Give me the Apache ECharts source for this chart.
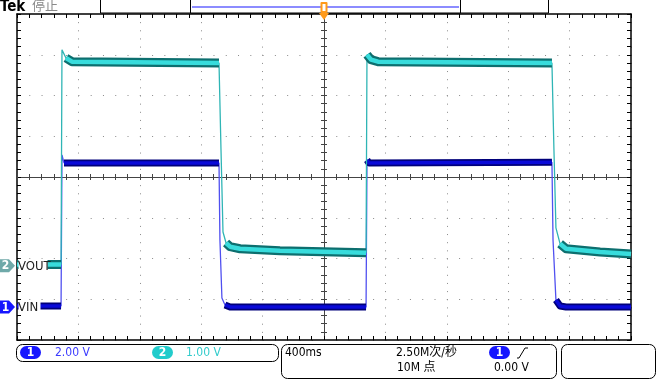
<!DOCTYPE html>
<html><head><meta charset="utf-8">
<script src="https://cdn.jsdelivr.net/npm/echarts@6/dist/echarts.min.js"></script>
<style>html,body{margin:0;padding:0;background:#fff}#c{width:663px;height:381px}</style>
</head><body><div id="c"></div>
<script>
// ---- data (time in s, volts) ----
const vinTime  = [-2.0, -1.713, -1.707, -1.694, -0.684, -0.678, -0.665, -0.645, -0.612, 0.274, 0.280, 0.293, 1.485, 1.492, 1.511, 1.538, 1.577, 2.0];
const vinVolts = [0.05, 0.05, 7.46, 7.07, 7.07, 3.29, 0.44, 0.10, 0.0, 0.0, 7.21, 7.07, 7.10, 3.29, 0.34, 0.05, 0.0, 0.0];
const voutTime  = [-2.0, -1.713, -1.707, -1.681, -1.642, -0.684, -0.671, -0.658, -0.638, -0.612, -0.547, -0.287, 0.274, 0.280, 0.306, 0.352, 1.485, 1.498, 1.511, 1.538, 1.577, 1.798, 2.0];
const voutVolts = [0.03, 0.03, 5.30, 5.10, 5.01, 4.98, 2.85, 0.83, 0.56, 0.47, 0.42, 0.37, 0.32, 5.18, 5.06, 5.01, 4.98, 2.85, 0.93, 0.54, 0.42, 0.34, 0.29];
// scope settings
const timePerDiv = 0.4;          // 400ms
const ch1VoltsPerDiv = 2.0;
const ch2VoltsPerDiv = 1.0;
const ch1GroundDiv = -3.19;      // ground marker position in divisions from centre
const ch2GroundDiv = -2.18;
const hDivs = 10, vDivs = 8;
const statusTexts = { ch1: '2.00 V', ch2: '1.00 V', timebase: '400ms', rate: '2.50M次/秒', points: '10M 点', trigLevel: '0.00 V' };

const pts = (t, v) => t.map((x, i) => [x, v[i]]);
function band(t, v, vpd) {
  const out = [];
  for (let i = 0; i < t.length; i++) {
    out.push([t[i], v[i]]);
    if (i < t.length - 1 && Math.abs(v[i + 1] - v[i]) / vpd > 0.15) out.push([t[i], null]);
  }
  return out;
}

const chart = echarts.init(document.getElementById('c'), null, { renderer: 'canvas' });
const FONT = "'Liberation Sans Narrow','DejaVu Sans Condensed','Liberation Sans','Noto Sans CJK SC',sans-serif";
const dotGrey = '#8a8a8a';
function borderAxis(extra) {
  return Object.assign({
    type: 'value', axisLine: { show: true, onZero: false, lineStyle: { color: '#000', width: 1.5 } },
    axisTick: { show: true, inside: true, length: 4, lineStyle: { color: '#000' } },
    minorTick: { show: true, splitNumber: 5, length: 4, lineStyle: { color: '#000' } },
    axisLabel: { show: false }, splitLine: { show: false }
  }, extra);
}
function centerAxis(extra, inside, showLine, zeroIdx) {
  return Object.assign({
    type: 'value', axisLine: { show: showLine, onZero: true, onZeroAxisIndex: zeroIdx, lineStyle: { color: '#444', width: 1 } },
    axisTick: { show: true, inside: inside, length: 3, lineStyle: { color: '#444' } },
    minorTick: { show: true, splitNumber: 5, length: 3, lineStyle: { color: '#444' } },
    axisLabel: { show: false }, splitLine: { show: false }
  }, extra);
}
const xr = { min: -hDivs / 2 * timePerDiv, max: hDivs / 2 * timePerDiv, interval: timePerDiv };
const yr = { min: -vDivs / 2, max: vDivs / 2, interval: 1 };

const option = {
  backgroundColor: '#fff',
  animation: false,
  grid: { left: 17, top: 14, width: 614, height: 326, outerBoundsMode: 'none', containLabel: false },
  xAxis: [
    borderAxis(Object.assign({ position: 'bottom', splitLine: { show: true, lineStyle: { color: dotGrey, width: 1, type: [1, 7.15] } } }, xr)),
    borderAxis(Object.assign({ position: 'top' }, xr)),
    centerAxis(Object.assign({ position: 'bottom' }, xr), false, true, 0),
    centerAxis(Object.assign({ position: 'bottom' }, xr), true, false, 0)
  ],
  yAxis: [
    borderAxis(Object.assign({ position: 'left', splitLine: { show: true, lineStyle: { color: dotGrey, width: 1, type: [1, 11.28] } } }, yr)),
    borderAxis(Object.assign({ position: 'right' }, yr)),
    centerAxis(Object.assign({ position: 'left' }, yr), false, true, 0),
    centerAxis(Object.assign({ position: 'left' }, yr), true, false, 0),
    { type: 'value', show: false, min: (-vDivs / 2 - ch1GroundDiv) * ch1VoltsPerDiv, max: (vDivs / 2 - ch1GroundDiv) * ch1VoltsPerDiv },
    { type: 'value', show: false, min: (-vDivs / 2 - ch2GroundDiv) * ch2VoltsPerDiv, max: (vDivs / 2 - ch2GroundDiv) * ch2VoltsPerDiv }
  ],
  series: [
    { type: 'line', name: 'VIN', xAxisIndex: 0, yAxisIndex: 4, data: pts(vinTime, vinVolts), symbol: 'none', z: 3, lineStyle: { color: '#5050f0', width: 1.3 } },
    { type: 'line', xAxisIndex: 0, yAxisIndex: 4, data: band(vinTime, vinVolts, ch1VoltsPerDiv), symbol: 'none', z: 4, connectNulls: false, lineStyle: { color: '#00007a', width: 7, join: 'round' } },
    { type: 'line', xAxisIndex: 0, yAxisIndex: 4, data: band(vinTime, vinVolts, ch1VoltsPerDiv), symbol: 'none', z: 5, connectNulls: false, lineStyle: { color: '#0a0ad8', width: 3.5, join: 'round' } },
    { type: 'line', name: 'VOUT', xAxisIndex: 0, yAxisIndex: 5, data: pts(voutTime, voutVolts), symbol: 'none', z: 6, lineStyle: { color: '#2fb5b5', width: 1.3 } },
    { type: 'line', xAxisIndex: 0, yAxisIndex: 5, data: band(voutTime, voutVolts, ch2VoltsPerDiv), symbol: 'none', z: 7, connectNulls: false, lineStyle: { color: '#0d6f6f', width: 9, join: 'round' } },
    { type: 'line', xAxisIndex: 0, yAxisIndex: 5, data: band(voutTime, voutVolts, ch2VoltsPerDiv), symbol: 'none', z: 8, connectNulls: false, lineStyle: { color: '#38dcdc', width: 4.5, join: 'round' } }
  ]
};
chart.setOption(option);

const g1 = chart.convertToPixel({ yAxisIndex: 4 }, 0);
const g2 = chart.convertToPixel({ yAxisIndex: 5 }, 0);
const trig = chart.convertToPixel({ xAxisIndex: 0 }, 0);

function txt(text, x, y, fill, size, extra) {
  return Object.assign({ type: 'text', z: 100, style: { text: text, x: x, y: y, fill: fill, font: size + 'px ' + FONT, align: 'left', verticalAlign: 'middle' } }, extra || {});
}
function badge(n, x, y, fill) {
  return [
    { type: 'rect', z: 100, shape: { x: x, y: y, width: 21, height: 13, r: 6.5 }, style: { fill: fill } },
    { type: 'text', z: 101, style: { text: n, x: x + 10.5, y: y + 7, fill: '#fff', font: 'bold 12px ' + FONT, align: 'center', verticalAlign: 'middle' } }
  ];
}
function marker(n, y, fill, label, coverW) {
  return [
    { type: 'rect', z: 99, shape: { x: 18.5, y: y - 7, width: coverW, height: 14 }, style: { fill: '#fff' } },
    { type: 'polygon', z: 100, shape: { points: [[0, y - 6.5], [9, y - 6.5], [15, y], [9, y + 6.5], [0, y + 6.5]] }, style: { fill: fill } },
    { type: 'text', z: 101, style: { text: n, x: 5.5, y: y + 0.5, fill: '#fff', font: 'bold 12px ' + FONT, align: 'center', verticalAlign: 'middle' } },
    txt(label, 18, y + 0.5, '#222', 13)
  ];
}
const box = (x, y, w, h) => ({ type: 'rect', z: 100, shape: { x: x, y: y, width: w, height: h, r: 6 }, style: { fill: 'none', stroke: '#000', lineWidth: 1 } });

const graphics = [].concat(
  [
    txt('Tek', 0, 7, '#000', 15, {}),
    txt('停止', 32, 7, '#8a8a8a', 13),
    { type: 'rect', z: 100, shape: { x: 100.5, y: -1, width: 448, height: 14 }, style: { fill: '#fff', stroke: '#000', lineWidth: 1 } },
    { type: 'rect', z: 100, shape: { x: 190.5, y: -1, width: 270, height: 14 }, style: { fill: '#fff', stroke: '#000', lineWidth: 1 } },
    { type: 'line', z: 101, shape: { x1: 192, y1: 7, x2: 459, y2: 7 }, style: { stroke: '#8c8cff', lineWidth: 2 } },
    { type: 'rect', z: 102, shape: { x: trig - 3.5, y: 2, width: 7, height: 11, r: 1 }, style: { fill: '#ff9a1a' } },
    { type: 'rect', z: 103, shape: { x: trig - 1.5, y: 4, width: 3, height: 7 }, style: { fill: '#fff' } },
    { type: 'polygon', z: 102, shape: { points: [[trig - 5, 13], [trig + 5, 13], [trig, 20]] }, style: { fill: '#ff9a1a' } }
  ],
  marker('2', g2, '#6fa9a9', 'VOUT', 29),
  marker('1', g1, '#1616ff', 'VIN', 22),
  [box(16.5, 344.5, 262, 17), box(281.5, 344.5, 275, 34), box(561.5, 344.5, 94, 34)],
  badge('1', 20, 346, '#1616ff'),
  [txt(statusTexts.ch1, 55, 353, '#3c3cff', 12)],
  badge('2', 152, 346, '#22cccc'),
  [txt(statusTexts.ch2, 186, 353, '#33cccc', 12)],
  [txt(statusTexts.timebase, 285, 353, '#000', 12),
   txt(statusTexts.rate, 396, 353, '#000', 12),
   txt(statusTexts.points, 397, 368, '#000', 12),
   txt(statusTexts.trigLevel, 494, 368, '#000', 12)],
  badge('1', 489, 346, '#1616ff'),
  [{ type: 'polyline', z: 100, shape: { points: [[517, 358], [519, 358], [525, 348], [528, 348]] }, style: { stroke: '#000', lineWidth: 1, fill: 'none' } }]
);
graphics[0].style.font = 'bold 15px ' + FONT;
chart.setOption({ graphic: graphics });
</script></body></html>
